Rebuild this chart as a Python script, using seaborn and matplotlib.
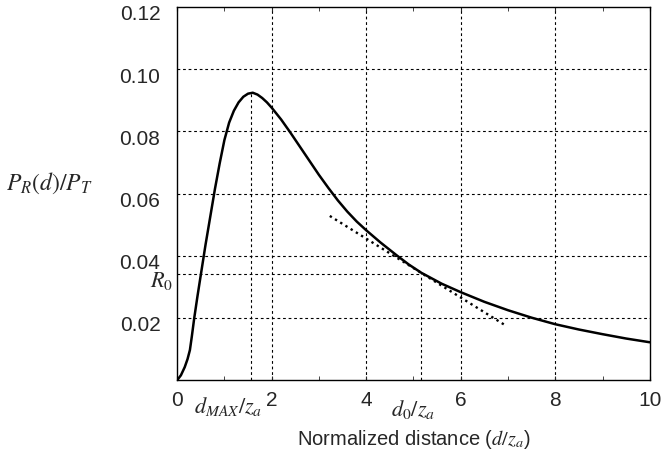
import numpy as np
import pandas as pd
import matplotlib
matplotlib.use('Agg')
import matplotlib.pyplot as plt
import matplotlib.transforms as mtransforms
import seaborn as sns

# Curva
dist = [0, 0.08, 0.16, 0.22, 0.27, 0.31, 0.36, 0.43, 0.5, 0.6, 0.7, 0.8, 0.9, 1.0, 1.1,
        1.2, 1.3, 1.4, 1.5, 1.6, 1.7, 1.8, 1.9, 2.0, 2.2, 2.4, 2.6, 2.8, 3.0, 3.2, 3.4,
        3.6, 3.8, 4.0, 4.3, 4.64, 4.9, 5.17, 5.6, 6.0, 6.5, 7.0, 7.5, 8.0, 8.5, 9.0,
        9.5, 10.0]
potencia = [0, 0.0016, 0.0042, 0.0068, 0.0097, 0.0140, 0.0198, 0.0270, 0.0338, 0.0435,
            0.0525, 0.0615, 0.0697, 0.0772, 0.0828, 0.0866, 0.0893, 0.0911, 0.0921,
            0.0924, 0.0918, 0.0907, 0.0893, 0.0876, 0.0838, 0.0795, 0.0750, 0.0705,
            0.0660, 0.0618, 0.0578, 0.0542, 0.0510, 0.0482, 0.0443, 0.0402, 0.0372,
            0.0345, 0.0310, 0.0283, 0.0252, 0.0225, 0.0201, 0.0180, 0.0163, 0.0148,
            0.0134, 0.0122]

# Recta tangente en d0
tang_x = [3.23, 6.97]
tang_y = [0.0528, 0.0174]

d_max, p_max = 1.57, 0.0924
d0, r0 = 5.17, 0.0343

xticks = [0, 2, 4, 6, 8, 10]
yticks = [0.02, 0.04, 0.06, 0.08, 0.10, 0.12]
ytick_labels = ['0.02', '0.04', '0.06', '0.08', '0.10', '0.12']

sns.set_style('ticks')
plt.rcParams['font.family'] = ['Liberation Sans', 'DejaVu Sans']
plt.rcParams['mathtext.fontset'] = 'stix'

fig = plt.figure(figsize=(6.61, 4.57), dpi=100)
ax = fig.add_axes([0.268, 0.168, 0.715, 0.817])

df = pd.DataFrame({'d': dist, 'P': potencia})
sns.lineplot(data=df, x='d', y='P', ax=ax, color='black', linewidth=1.8, sort=False)
ax.plot(tang_x, tang_y, color='black', linewidth=1.7, linestyle=(0, (1, 1.6)))

# Lineas de referencia
grid_kw = dict(color='black', linewidth=0.8, linestyle=(0, (2.5, 2.5)))
for yv in yticks[:-1]:
    ax.axhline(yv, **grid_kw, zorder=0)
for xv in xticks[1:-1]:
    ax.axvline(xv, **grid_kw, zorder=0)
ax.plot([d_max, d_max], [0, p_max], **grid_kw, zorder=0)
ax.plot([d0, d0], [0, r0], **grid_kw, zorder=0)
ax.plot([0, d0], [r0, r0], **grid_kw, zorder=0)

ax.set_xlim(0, 10)
ax.set_ylim(0, 0.12)
ax.set_xticks(xticks)
ax.set_xticklabels([str(v) for v in xticks], fontsize=15)
ax.set_yticks(yticks)
ax.set_yticklabels(ytick_labels, fontsize=15)
ax.set_xticks([1, 3, 5, 7, 9], minor=True)
ax.tick_params(axis='x', which='both', direction='in', top=True, length=3, pad=8)
ax.tick_params(axis='y', which='both', length=0, pad=12)
# etiquetas del eje y un poco mas abajo, como en el original
offset = mtransforms.ScaledTranslation(0, -0.06, fig.dpi_scale_trans)
for lab in ax.get_yticklabels():
    lab.set_transform(lab.get_transform() + offset)
for s in ax.spines.values():
    s.set_visible(True)
    s.set_linewidth(1.0)
    s.set_color('black')

ax.set_xlabel('Normalized distance ($d/z_a$)', fontsize=14.5, labelpad=13)
ax.set_ylabel('')
fig.text(0.074, 0.60, r'$P_R(d)/P_T$', fontsize=17, ha='center', va='center')
ax.text(-0.08, r0 - 0.0025, r'$R_0$', fontsize=16, ha='right', va='center', clip_on=False)
ax.text(1.08, -0.0085, r'$d_{MAX}/z_a$', fontsize=16, ha='center', va='center', clip_on=False)
ax.text(5.0, -0.0095, r'$d_0/z_a$', fontsize=16, ha='center', va='center', clip_on=False)

fig.savefig('out.png', dpi=100)
